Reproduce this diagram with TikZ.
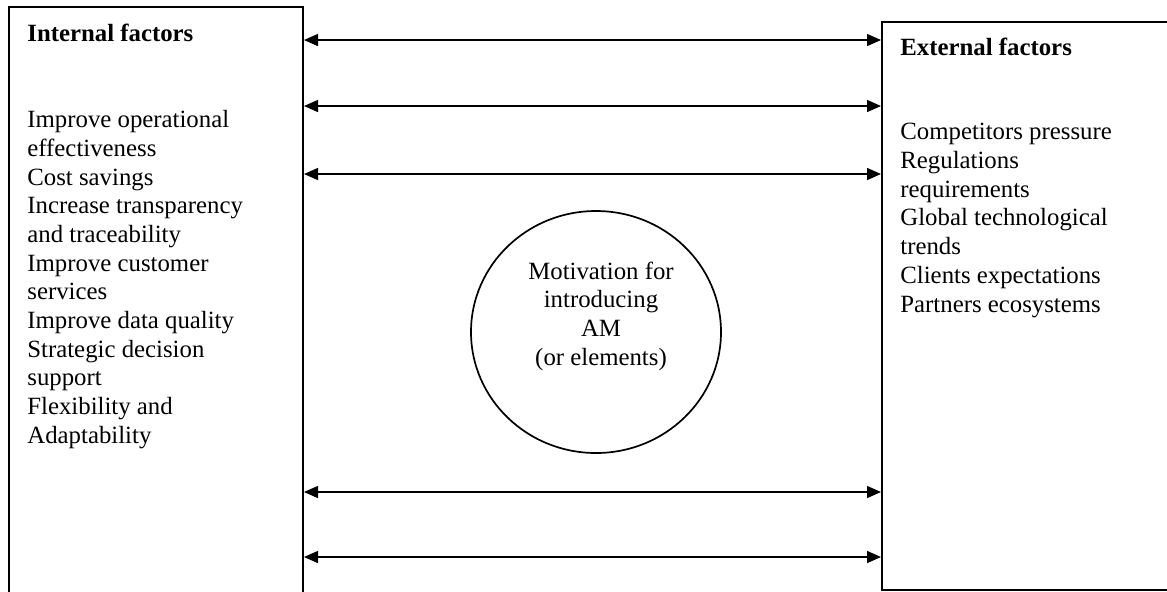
\documentclass[tikz,border=0pt]{standalone}
\usepackage{fontspec}
\setmainfont{Liberation Serif}
\usetikzlibrary{positioning, shapes.geometric, arrows.meta}

\begin{document}
\begin{tikzpicture}[
        x=0.5pt, y=-0.5pt,
        font=\fontsize{12.4pt}{14.35pt}\selectfont,
        box/.style = {rectangle, draw, line width=1pt, anchor=north west,
                    inner sep=0pt},
        txt/.style = {align=left, anchor=north west, inner sep=0pt},
        link/.style = {{Triangle[length=7pt,width=6pt]}-{Triangle[length=7pt,width=6pt]},
                    line width=0.7pt}
                    ]
        \useasboundingbox (0,0) rectangle (1167,591);
        \node (internal) [box, minimum width=147pt, minimum height=300pt] at (8,6) {};
        \node (external) [box, minimum width=150pt, minimum height=284pt] at (881,21) {};
        %
        \node (inthead) [anchor=base west, inner sep=0pt] at (27,41) {\textbf{Internal factors}};
        \node (exthead) [anchor=base west, inner sep=0pt] at (900,55) {\textbf{External factors}};
        \node (intlist) [txt] at (27,110) {Improve operational\\effectiveness\\Cost savings\\
            Increase transparency\\and traceability\\Improve customer\\services\\
            Improve data quality\\Strategic decision\\support\\Flexibility and\\Adaptability};
        \node (extlist) [txt] at (900,123) {Competitors pressure\\Regulations\\requirements\\
            Global technological\\trends\\Clients expectations\\Partners ecosystems};
        %
        \node (motiv) [ellipse, draw, line width=0.85pt, minimum width=125pt,
                    minimum height=121pt] at (596,332) {};
        \node (motivtext) [align=center, inner sep=0pt] at (601,316)
            {Motivation for\\introducing\\AM\\(or elements)};
        %
        \foreach \y [count=\i] in {40,106,174,492,557}
            \coordinate (a\i) at (0,\y);
        \foreach \i in {1,...,5}
            \draw[link] (internal.east |- a\i) -- (external.west |- a\i);
    \end{tikzpicture}
\end{document}
